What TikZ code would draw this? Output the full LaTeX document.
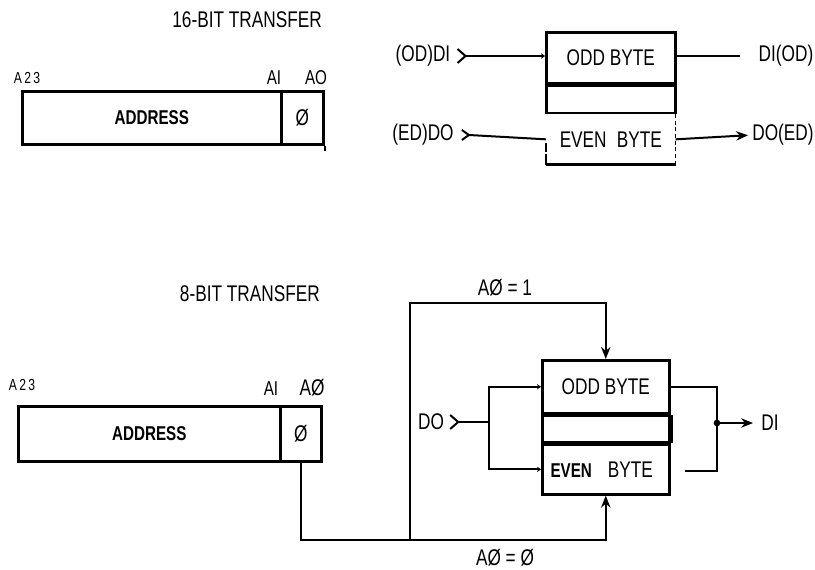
\documentclass[tikz,border=0pt]{standalone}
\usepackage{fontspec}
\setmainfont{Liberation Sans}[FakeStretch=0.76]
\usetikzlibrary{arrows.meta,positioning,calc}
\newcommand{\pxu}{0.75pt}

\begin{document}
\begin{tikzpicture}[x=0.75pt,y=-0.75pt,
    lbl/.style={font=\fontsize{17}{17}\selectfont, inner sep=0},
    pinlbl/.style={font=\fontsize{12}{12}\selectfont\addfontfeatures{LetterSpace=14}, inner sep=0},
    reg/.style={draw, line width=1.9pt, inner sep=0, anchor=north west, font=\fontsize{17}{17}\selectfont},
    wire/.style={line width=1.5pt},
    arr/.style={wire, -{Stealth[length=9pt,width=7pt]}},
    smalltip/.style={wire, -{Stealth[length=3pt,width=4pt]}}]
    \useasboundingbox (0,0) rectangle (815,570);

    % 16-bit transfer: address
    \node[lbl, anchor=east] (titleA) at (322,20) {16-BIT TRANSFER};
    \node[reg, minimum width=259*\pxu, minimum height=53*\pxu, font=\fontsize{15}{15}\selectfont\bfseries] (addrA) at (21,90) {ADDRESS};
    \node[reg, minimum width=42*\pxu, minimum height=53*\pxu] (bitA) at (280,90) {Ø};
    \draw[wire] (bitA.south east) -- ++(0,5);
    \node[pinlbl] (a23A) at (27,78) {A23};
    \node[lbl, font=\fontsize{15}{15}\selectfont] (a1A) at (274,78) {AI};
    \node[lbl, font=\fontsize{15}{15}\selectfont] (a0A) at (316,78) {AO};

    % 16-bit transfer: bytes
    \node[reg, minimum width=129*\pxu, minimum height=51*\pxu] (oddA) at (545,31) {ODD BYTE};
    \node[reg, minimum width=129*\pxu, minimum height=27*\pxu, anchor=north] (gapA) at (oddA.south) {};
    \node[lbl, minimum width=129*\pxu, minimum height=50*\pxu, anchor=north] (evenA) at (gapA.south) {EVEN\hspace{4pt} BYTE};
    \draw[line width=1.9pt] (evenA.south west) -- (evenA.south east);
    \draw[line width=1.9pt] (evenA.south west) -- ++(0,-11);
    \draw[line width=0.8pt] ($(evenA.south west)+(0,-13)$) -- ++(0,-9);
    \draw[line width=0.8pt, densely dashed] (evenA.north east) -- (evenA.south east);

    \node[lbl] (odin) at (423,56) {(OD)DI};
    \coordinate (odfork) at ($(odin.east)+(15,0)$);
    \draw[wire] ($(odfork)+(-8,-7)$) -- (odfork) -- ($(odfork)+(-8,7)$);
    \draw[smalltip] (odfork) -- (odfork -| oddA.west);
    \node[lbl] (odout) at (786,56) {DI(OD)};
    \coordinate (odend) at (740,56);
    \draw[wire] (oddA.east |- odend) -- (odend);

    \node[lbl] (edin) at (423,135) {(ED)DO};
    \coordinate (edfork) at ($(edin.east)+(15,0)$);
    \draw[wire] ($(edfork)+(-7,-5)$) -- (edfork) -- ($(edfork)+(-7,5)$);
    \draw[wire] (edfork) -- (evenA.west);
    \node[lbl] (edout) at (783,135) {DO(ED)};
    \draw[arr, shorten >=3pt] (evenA.east) -- (edout.west);

    % 8-bit transfer: address
    \node[lbl, anchor=east] (titleB) at (320,294) {8-BIT TRANSFER};
    \node[reg, minimum width=262*\pxu, minimum height=55*\pxu, font=\fontsize{15}{15}\selectfont\bfseries] (addrB) at (17,405) {ADDRESS};
    \node[reg, minimum width=41*\pxu, minimum height=55*\pxu] (bitB) at (279,405) {Ø};
    \node[pinlbl] (a23B) at (22,385) {A23};
    \node[lbl, font=\fontsize{15}{15}\selectfont] (a1B) at (271,389) {AI};
    \node[lbl] (a0B) at (312,388) {AØ};

    % 8-bit transfer: bytes
    \node[reg, minimum width=127*\pxu, minimum height=53*\pxu] (oddB) at (541,359) {ODD BYTE};
    \node[reg, minimum width=127*\pxu, minimum height=26*\pxu, anchor=north] (gapB) at (oddB.south) {};
    \node[reg, minimum width=127*\pxu, minimum height=50*\pxu, anchor=north] (evenB) at (gapB.south) {\hspace{-6pt}{\fontsize{15}{15}\selectfont\bfseries EVEN}\hspace{12pt}BYTE};
    \draw[line width=3.5pt] (gapB.north east) -- (gapB.south east);

    % A0 select lines
    \coordinate (junc) at (410,540);
    \coordinate (topbus) at (410,303);
    \draw[arr] (bitB.south) |- (junc) -| (evenB.south);
    \draw[arr] (junc) -- (topbus) -| (oddB.north);
    \node[lbl] (a0one) at (505,288) {AØ = 1};
    \node[lbl] (a0zero) at (505,558) {AØ = Ø};

    % data in
    \node[lbl] (doin) at (431,422) {DO};
    \coordinate (dofork) at ($(doin.east)+(14,0)$);
    \coordinate (dobus) at (489,422);
    \draw[wire] ($(dofork)+(-8,-7)$) -- (dofork) -- ($(dofork)+(-8,7)$);
    \draw[wire] (dofork) -- (dobus);
    \draw[smalltip] (dobus) |- (oddB.west);
    \draw[smalltip] (dobus) |- (evenB.west);

    % data out
    \coordinate (ojoin) at (717,423);
    \node[lbl] (diout) at (770,423) {DI};
    \draw[wire] (oddB.east) -| (ojoin);
    \draw[wire] ($(evenB.east)+(14,2)$) -| (ojoin);
    \fill (ojoin) circle (2.5pt);
    \draw[arr, shorten >=6pt] (ojoin) -- (diout.west);
\end{tikzpicture}
\end{document}
